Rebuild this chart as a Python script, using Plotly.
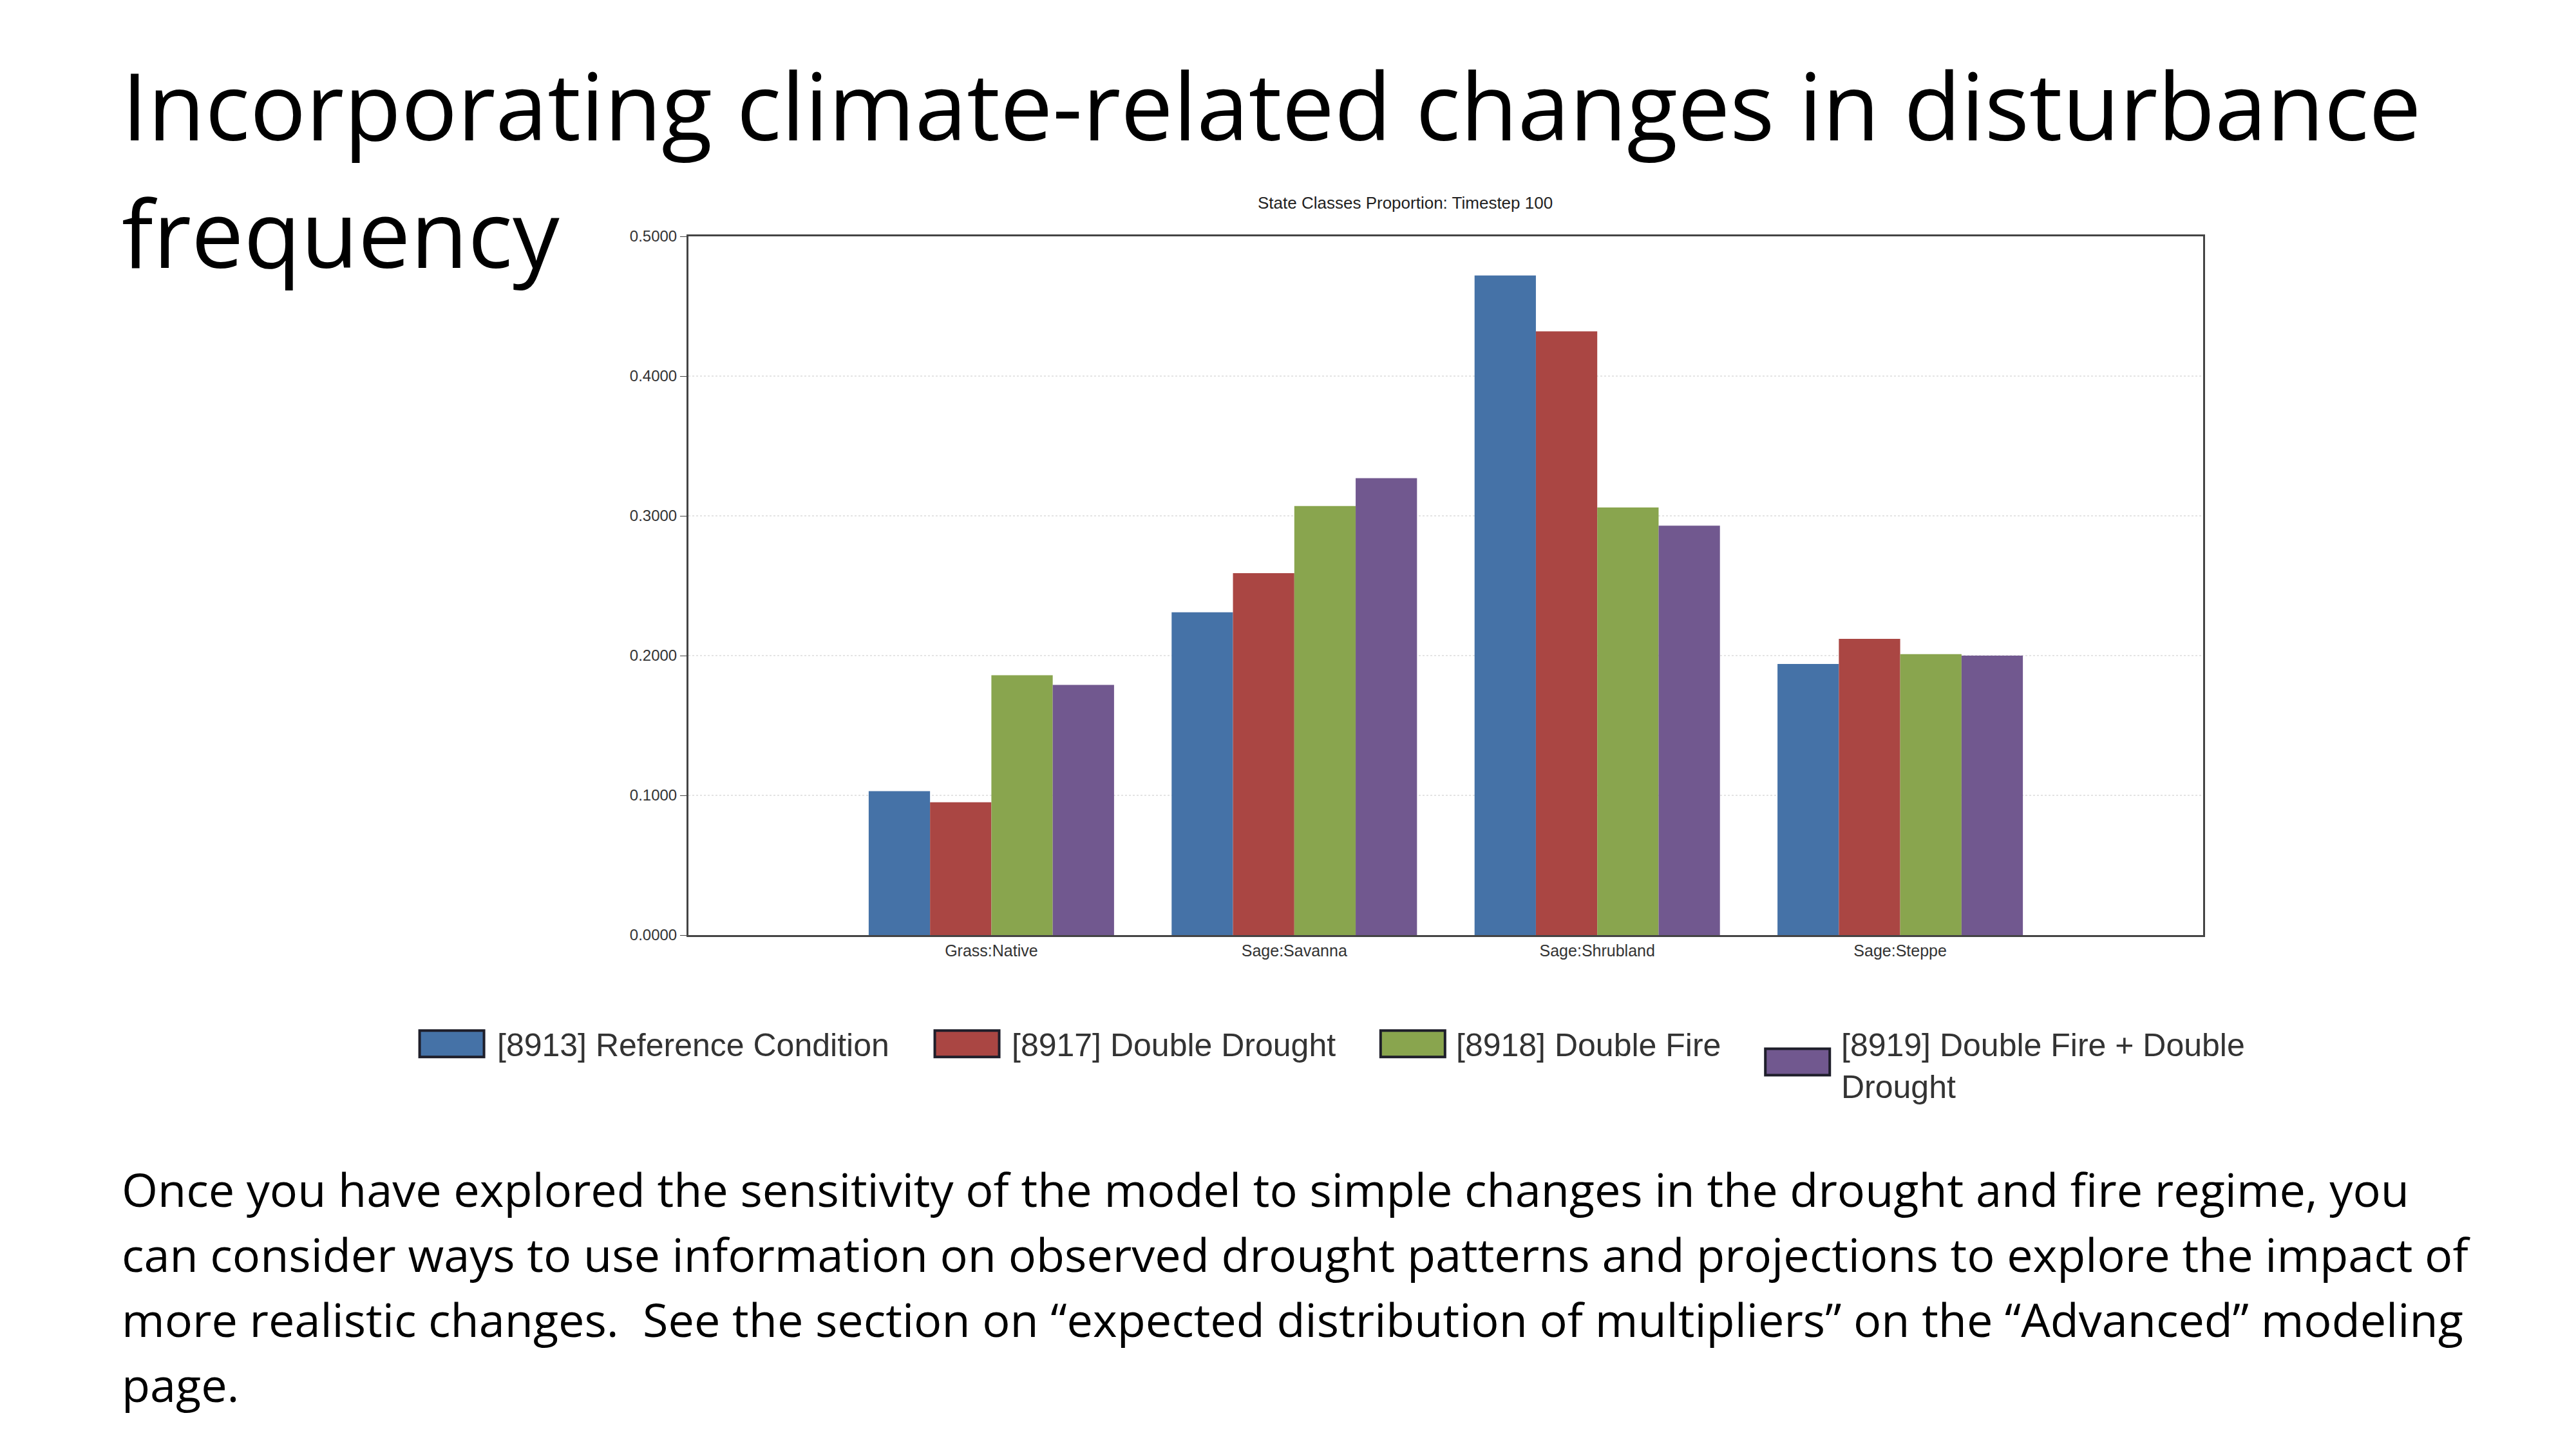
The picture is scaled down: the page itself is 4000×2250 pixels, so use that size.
import plotly.graph_objects as go

categories = ["Grass:Native", "Sage:Savanna", "Sage:Shrubland", "Sage:Steppe"]
series_names = [
    "[8913] Reference Condition",
    "[8917] Double Drought",
    "[8918] Double Fire",
    "[8919] Double Fire + Double<br>Drought",
]
reference = [0.103, 0.231, 0.472, 0.194]
double_drought = [0.095, 0.259, 0.432, 0.212]
double_fire = [0.186, 0.307, 0.306, 0.201]
fire_drought = [0.179, 0.327, 0.293, 0.200]
y_ticks = [0.0, 0.1, 0.2, 0.3, 0.4, 0.5]

colors = ["#4572a7", "#aa4643", "#89a54e", "#71588f"]
series = [reference, double_drought, double_fire, fire_drought]

W, H = 4000, 2250
L, R, T, B = 1061, 3413, 359, 1444
pw, ph = R - L, B - T
S = 2.564  # reference px -> page px


def px(xd):
    return (xd * S - L) / pw


def py(yd):
    return (B - yd * S) / ph


fig = go.Figure()
xs = list(range(len(categories)))
for name, vals, c in zip(series_names, series, colors):
    fig.add_trace(go.Bar(x=xs, y=vals, name=name, showlegend=False,
                         marker=dict(color=c, line=dict(width=0))))

chart_font = "Liberation Sans Narrow, Liberation Sans, Arial"
fig.update_layout(
    width=W, height=H,
    margin=dict(l=L, r=W - R, t=T, b=H - B),
    paper_bgcolor="white", plot_bgcolor="white",
    barmode="group", bargap=0.19, bargroupgap=0,
    font=dict(family=chart_font, size=26, color="#333333"),
    xaxis=dict(range=[-1, 4], tickvals=xs, ticktext=categories, showgrid=False,
               showline=True, linecolor="#444444", linewidth=3, mirror=True,
               ticks="", tickfont=dict(size=25, color="#333333")),
    yaxis=dict(range=[0, 0.5], tickvals=y_ticks, tickformat=".4f",
               showgrid=True, gridcolor="#e4e4e4", griddash="dot", gridwidth=2,
               showline=True, linecolor="#444444", linewidth=3, mirror=True,
               ticks="outside", ticklen=10, tickcolor="#444444",
               tickfont=dict(size=24, color="#333333"), zeroline=False),
)

# chart title
fig.add_annotation(text="State Classes Proportion: Timestep 100", xref="paper", yref="paper",
                   x=px(848), y=py(113), showarrow=False,
                   font=dict(family=chart_font, size=26, color="#222222"))

# hand-drawn legend (boxes + labels)
legend_pos = [(251, 297, 629), (563, 609, 629), (833, 878, 629), (1066, 1111, 640)]
for (bx, tx, by), name, c in zip(legend_pos, series_names, colors):
    fig.add_shape(type="rect", xref="paper", yref="paper",
                  x0=px(bx), x1=px(bx + 39), y0=py(by - 8), y1=py(by + 8),
                  fillcolor=c, line=dict(color="#1e1e2a", width=4))
    fig.add_annotation(text=name, xref="paper", yref="paper", x=px(tx), y=py(618),
                       xanchor="left", yanchor="top", align="left", showarrow=False,
                       font=dict(family=chart_font, size=50, color="#333333"))

slide_font = "Open Sans, Noto Sans, sans-serif"
for txt, y in [("Incorporating climate-related changes in disturbance", 60),
               ("frequency", 137)]:
    fig.add_annotation(text=txt, xref="paper", yref="paper", x=px(70),
                       y=py(y), xanchor="left", yanchor="middle",
                       showarrow=False, font=dict(family=slide_font, size=145, color="black"))

body = [
    "Once you have explored the sensitivity of the model to simple changes in the drought and fire regime, you",
    "can consider ways to use information on observed drought patterns and projections to explore the impact of",
    "more realistic changes.  See the section on “expected distribution of multipliers” on the “Advanced” modeling",
    "page.",
]
for i, line in enumerate(body):
    fig.add_annotation(text=line, xref="paper", yref="paper", x=px(70),
                       y=py(717 + 39.3 * i), xanchor="left", yanchor="middle",
                       showarrow=False, font=dict(family=slide_font, size=72, color="black"))

fig.write_html("out.html")
